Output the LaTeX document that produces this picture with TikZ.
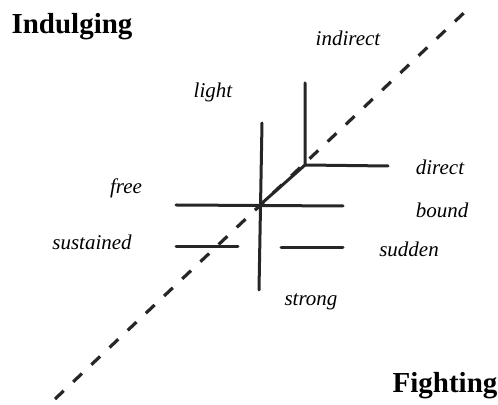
\documentclass[tikz,border=0pt]{standalone}
\usepackage{fontspec}
\setmainfont{Liberation Serif}
\begin{document}
\begin{tikzpicture}[x=0.5pt,y=-0.5pt,
  solidline/.style={line width=1.5pt,line cap=round,draw=black!85},
  dashline/.style={line width=1.6pt,draw=black!85,dash pattern=on 6pt off 6.5pt},
  lbl/.style={font=\itshape\fontsize{10.5}{12}\selectfont,inner sep=0pt},
  big/.style={font=\bfseries\fontsize{14.5}{16}\selectfont,inner sep=0pt}]
\useasboundingbox (0,0) rectangle (498,405);
% coordinates
\coordinate (C) at (261,204);
\coordinate (E) at (305,165);
\coordinate (T) at (305,83);
\coordinate (D) at (388,166);
\coordinate (L) at (262,123);
\coordinate (S) at (259,290);
\coordinate (F1) at (176,205);
\coordinate (B1) at (343,206);
\coordinate (SL1) at (176,247);
\coordinate (SL2) at (238,247);
\coordinate (SR1) at (281,248);
\coordinate (SR2) at (343,248);
\coordinate (DA) at (55,399);
\coordinate (DB) at (467,10);
% dashed diagonal
\draw[dashline] (DA) -- (DB);
% solid lines
\draw[solidline] (T) -- (E) -- (D);
\draw[solidline] (E) -- (C);
\draw[solidline] (L) -- (S);
\draw[solidline] (F1) -- (B1);
\draw[solidline] (SL1) -- (SL2);
\draw[solidline] (SR1) -- (SR2);
% labels
\node[big] (ind) at (72,27) {Indulging};
\node[big] (fig) at (445,386) {Fighting};
\node[lbl] (light) at (213,92) {light};
\node[lbl] (indirect) at (348,38) {indirect};
\node[lbl] (direct) at (440,167) {direct};
\node[lbl] (free) at (126,188) {free};
\node[lbl] (bound) at (442,210) {bound};
\node[lbl] (sustained) at (92,242) {sustained};
\node[lbl] (sudden) at (409,249) {sudden};
\node[lbl] (strong) at (311,302) {strong};
\end{tikzpicture}
\end{document}
